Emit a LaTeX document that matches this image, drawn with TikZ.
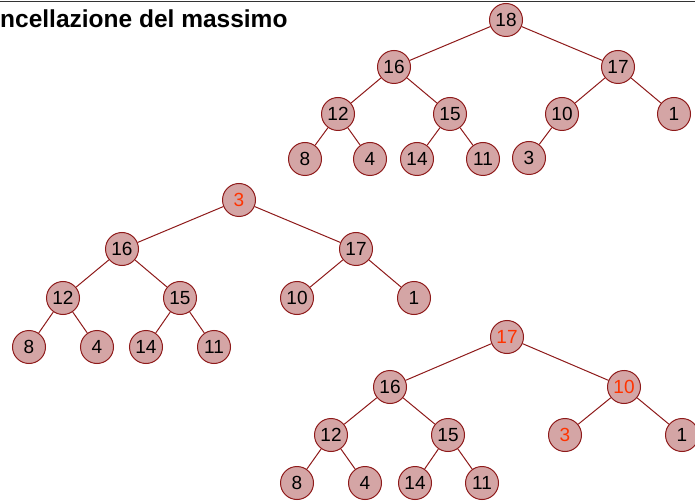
\documentclass[tikz,border=0pt]{standalone}
\usepackage{fontspec}
\setmainfont{Liberation Sans}
\definecolor{nodefill}{HTML}{D4A5A5}
\definecolor{nodedraw}{HTML}{8E1A1A}
\definecolor{hot}{HTML}{FF3300}
\definecolor{rule}{HTML}{333333}
\tikzset{
  hn/.style={circle, draw=nodedraw, fill=nodefill, line width=1pt, minimum size=33pt, inner sep=0pt, font=\fontsize{19}{19}\selectfont, text=black},
  hot/.style={text=hot},
  edge/.style={draw=nodedraw, line width=1pt}
}
\begin{document}
\begin{tikzpicture}[x=1pt, y=-1pt]
\useasboundingbox (0,0) rectangle (695,502);
\clip (0,0) rectangle (695,502);
\draw[rule, line width=1pt] (0,1.5) coordinate (ruleL) -- (695,1.5) coordinate (ruleR);
\node[anchor=base west, inner sep=0pt, font=\fontsize{24.5}{24.5}\selectfont\bfseries] (title) at (0,27.5) {ncellazione del massimo};
% tree 1
\node[hn] (a18) at (506,20) {18};
\node[hn] (a16) at (394,67) {16};
\node[hn] (a17) at (618,67) {17};
\node[hn] (a12) at (338,114) {12};
\node[hn] (a15) at (450,114) {15};
\node[hn] (a10) at (562,114) {10};
\node[hn] (a1) at (674,114) {1};
\node[hn] (a8) at (305,159) {8};
\node[hn] (a4) at (370,159) {4};
\node[hn] (a14) at (417,159) {14};
\node[hn] (a11) at (483,159) {11};
\node[hn] (a3) at (529,158) {3};
\foreach \p/\c in {a18/a16,a18/a17,a16/a12,a16/a15,a17/a10,a17/a1,a12/a8,a12/a4,a15/a14,a15/a11,a10/a3}
  \draw[edge] (\p) -- (\c);
% tree 2
\node[hn,hot] (b3) at (239,200) {3\hspace{9pt}};
\node[hn] (b16) at (122,249) {16};
\node[hn] (b17) at (356,249) {17};
\node[hn] (b12) at (63,298) {12};
\node[hn] (b15) at (180,298) {15};
\node[hn] (b10) at (297,298) {10};
\node[hn] (b1) at (414,298) {1};
\node[hn] (b8) at (29,347) {8};
\node[hn] (b4) at (97,347) {4};
\node[hn] (b14) at (146,347) {14};
\node[hn] (b11) at (214,347) {11};
\foreach \p/\c in {b3/b16,b3/b17,b16/b12,b16/b15,b17/b10,b17/b1,b12/b8,b12/b4,b15/b14,b15/b11}
  \draw[edge] (\p) -- (\c);
% tree 3
\node[hn,hot] (c17) at (507,337) {17};
\node[hn] (c16) at (390,387) {16};
\node[hn,hot] (c10) at (624,387) {10};
\node[hn] (c12) at (331,435) {12};
\node[hn] (c15) at (448,435) {15};
\node[hn,hot] (c3) at (565,435) {3\hspace{9pt}};
\node[hn] (c1) at (682,435) {1};
\node[hn] (c8) at (297,483) {8};
\node[hn] (c4) at (365,483) {4};
\node[hn] (c14) at (415,483) {14};
\node[hn] (c11) at (482,483) {11};
\foreach \p/\c in {c17/c16,c17/c10,c16/c12,c16/c15,c10/c3,c10/c1,c12/c8,c12/c4,c15/c14,c15/c11}
  \draw[edge] (\p) -- (\c);
\end{tikzpicture}
\end{document}
